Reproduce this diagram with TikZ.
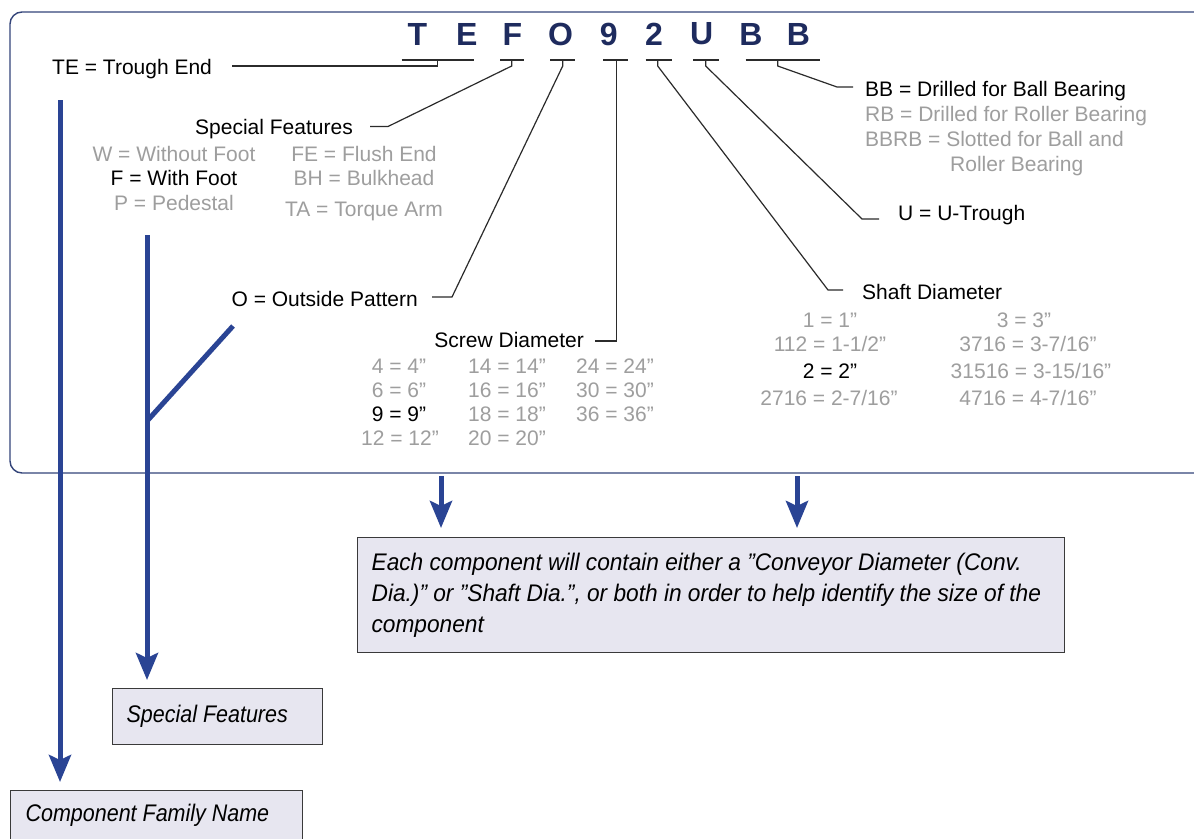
\documentclass[tikz,border=0pt]{standalone}
\usepackage{fontspec}
\setmainfont{Liberation Sans}
\newfontfamily\condfont[FakeStretch=0.895]{Liberation Sans}
\newfontfamily\condwide[FakeStretch=0.945]{Liberation Sans}
\usetikzlibrary{arrows.meta}
\definecolor{navy}{HTML}{1E2B5E}
\definecolor{frameblue}{HTML}{34457A}
\definecolor{arrowblue}{HTML}{2A4494}
\definecolor{graytxt}{HTML}{9E9E9E}
\definecolor{boxfill}{HTML}{E7E6F0}
\definecolor{linegray}{HTML}{2B2B2B}
\definecolor{boxline}{HTML}{3A3A3A}
\frenchspacing
\tikzset{
  lbl/.style={anchor=base west, inner sep=0pt, font=\fontsize{21}{24}\selectfont, text=black},
  opt/.style={anchor=base, inner sep=0pt, font=\fontsize{21}{24}\selectfont, text=graytxt},
  optl/.style={opt, anchor=base west},
  sel/.style={opt, text=black},
  code/.style={inner sep=0pt, font=\bfseries\fontsize{32}{32}\selectfont, text=navy},
  bar/.style={draw=linegray, line width=1.3pt},
  conn/.style={draw=linegray, line width=1.2pt},
  frame/.style={draw=frameblue, line width=1.4pt, rounded corners=12pt},
  barrow/.style={draw=arrowblue, line width=5pt, -{Stealth[length=27pt,width=22pt,inset=5pt]}},
  bline/.style={draw=arrowblue, line width=5pt},
  infobox/.style={draw=boxline, fill=boxfill, line width=1.3pt, anchor=north west, align=flush left,
    inner ysep=0pt, font=\condfont\itshape\fontsize{24}{31}\selectfont}
}
\begin{document}
\begin{tikzpicture}[x=1pt,y=-1pt]
\useasboundingbox (0,0) rectangle (1194,838);
\fill[white] (0,0) rectangle (1194,838);

% frame
\draw[frame] (1194,12) -- (10,12) -- (10,473) -- (1194,473);

% code letters
\node[code] (cT) at (417.5,34) {T};
\node[code] (cE) at (466.7,34) {E};
\node[code] (cF) at (512.5,34) {F};
\node[code] (cO) at (560.5,34) {O};
\node[code] (c9) at (608.7,34) {9};
\node[code] (c2) at (654,34) {2};
\node[code] (cU) at (701.7,34) {U};
\node[code] (cB1) at (750.8,34) {B};
\node[code] (cB2) at (798.3,34) {B};

% underline bars
\draw[bar] (401.7,60) -- (474.3,60);
\draw[bar] (500,60) -- (524,60);
\draw[bar] (550,60) -- (575,60);
\draw[bar] (603,60) -- (628,60);
\draw[bar] (645.7,60) -- (672.3,60);
\draw[bar] (693,60) -- (719,60);
\draw[bar] (745.7,60) -- (820,60);

% tick points
\coordinate (kTE) at (437.3,60);
\coordinate (kF) at (511.7,60);
\coordinate (kO) at (562.7,60);
\coordinate (k9) at (616.5,60);
\coordinate (k2) at (657.7,60);
\coordinate (kU) at (705.7,60);
\coordinate (kBB) at (777.7,60);

% labels
\node[lbl] (te) at (52,74.5) {TE = Trough End};
\node[lbl, anchor=base east] (sf) at (353,134.5) {Special Features};
\node[opt] (w) at (174,161.5) {W = Without Foot};
\node[sel] (f) at (174,185.5) {F = With Foot};
\node[opt] (p) at (174,210.5) {P = Pedestal};
\node[opt] (fe) at (364,161.5) {FE = Flush End};
\node[opt] (bh) at (364,185.5) {BH = Bulkhead};
\node[opt] (ta) at (364,216.5) {TA = Torque Arm};
\node[lbl, anchor=base east] (op) at (418,306.5) {O = Outside Pattern};
\node[lbl, anchor=base east] (sd) at (584,347.5) {Screw Diameter};

\node[opt] (s4) at (399,373.5) {4 = 4”};
\node[opt] (s6) at (399,397.5) {6 = 6”};
\node[sel] (s9) at (399,421.5) {9 = 9”};
\node[opt] (s12) at (400,445.5) {12 = 12”};
\node[optl] (s14) at (468,373.5) {14 = 14”};
\node[optl] (s16) at (468,397.5) {16 = 16”};
\node[optl] (s18) at (468,421.5) {18 = 18”};
\node[optl] (s20) at (468,445.5) {20 = 20”};
\node[opt] (s24) at (615,373.5) {24 = 24”};
\node[opt] (s30) at (615,397.5) {30 = 30”};
\node[opt] (s36) at (615,421.5) {36 = 36”};

\node[lbl] (shd) at (862,299.5) {Shaft Diameter};
\node[opt] (h1) at (830,327.5) {1 = 1”};
\node[opt] (h112) at (830,351.5) {112 = 1-1/2”};
\node[sel] (h2) at (830,378.5) {2 = 2”};
\node[opt] (h2716) at (829,405.5) {2716 = 2-7/16”};
\node[opt] (h3) at (1024,327.5) {3 = 3”};
\node[opt] (h3716) at (1028,351.5) {3716 = 3-7/16”};
\node[opt] (h31516) at (1031,378.5) {31516 = 3-15/16”};
\node[opt] (h4716) at (1028,405.5) {4716 = 4-7/16”};

\node[lbl] (ut) at (898,220.5) {U = U-Trough};
\node[lbl] (bb) at (865,96) {BB = Drilled for Ball Bearing};
\node[optl] (rb) at (865,121) {RB = Drilled for Roller Bearing};
\node[optl] (bbrb) at (865,146) {BBRB = Slotted for Ball and};
\node[optl] (bbrb2) at (950,171) {Roller Bearing};

% connectors from code to labels
\coordinate (teA) at (232,66);
\draw[conn] (teA) -| (kTE);
\coordinate (sfA) at (370,126.5);
\draw[conn] (kF) -- ++(0,6) -- (388,126.5) -- (sfA);
\coordinate (opA) at (432,297);
\draw[conn] (kO) -- ++(0,6) -- (452,297) -- (opA);
\coordinate (sdA) at (595,341);
\draw[conn] (k9) |- (sdA);
\coordinate (shA) at (843,290);
\draw[conn] (k2) -- ++(0,6) -- (828,290) -- (shA);
\coordinate (utA) at (879,219);
\draw[conn] (kU) -- ++(0,6) -- (862,219) -- (utA);
\coordinate (bbA) at (853,87);
\draw[conn] (kBB) -- ++(0,6) -- (837,87) -- (bbA);

% boxes
\node[infobox, font=\condwide\itshape\fontsize{24}{31}\selectfont, text width=679pt, inner xsep=14pt, minimum height=115pt] (note) at (357,537)
  {Each component will contain either a ”Conveyor Diameter (Conv.\\
   Dia.)” or ”Shaft Dia.”, or both in order to help identify the size of the\\
   component};
\node[infobox, text width=182pt, inner xsep=14pt, minimum height=56pt] (sfbox) at (112,688)
  {Special Features};
\node[infobox, text width=262pt, inner xsep=15pt, minimum height=50pt] (cfn) at (10,790)
  {Component Family Name};

% blue arrows
\coordinate (a1s) at (60,100);
\draw[barrow, shorten >=8pt] (a1s) -- (a1s |- cfn.north);
\coordinate (a2s) at (147,235);
\draw[barrow, shorten >=8pt] (a2s) -- (a2s |- sfbox.north);
\coordinate (ofree) at (233,326);
\coordinate (sfj) at (148,420);
\draw[bline] (ofree) -- (sfj);
\coordinate (a3s) at (441,476);
\draw[barrow, shorten >=9pt] (a3s) -- (a3s |- note.north);
\coordinate (a4s) at (797,476);
\draw[barrow, shorten >=9pt] (a4s) -- (a4s |- note.north);
\end{tikzpicture}
\end{document}
